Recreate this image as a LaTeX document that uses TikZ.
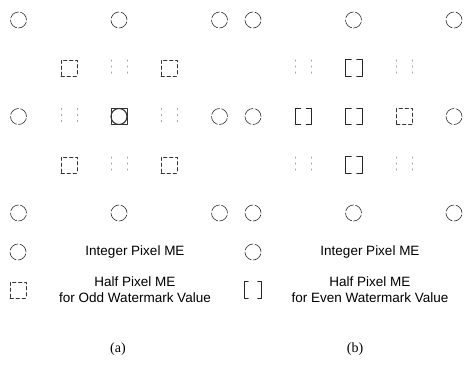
\documentclass[tikz,border=0pt]{standalone}
\usepackage{fontspec}
\setmainfont{Liberation Serif}
\setsansfont{Liberation Sans}

\tikzset{
  pelbox/.style={rectangle, minimum size=16pt, inner sep=0pt},
  intpel/.style={draw=black!80, circle, minimum size=16pt, inner sep=0pt, line width=0.6pt, dash pattern=on 10.5pt off 2pt},
  oddpel/.style={pelbox, draw=black!80, line width=0.6pt, dash pattern=on 3.5pt off 2.5pt},
  evenpel/.style={draw=black!85, line width=0.8pt},
  faintpel/.style={draw=black!35, line width=0.5pt, dash pattern=on 1.5pt off 4.5pt},
  keytext/.style={font=\sffamily\fontsize{13.5}{16.5}\selectfont, align=center, inner sep=0pt},
  caption/.style={font=\rmfamily\fontsize{14}{16}\selectfont, inner sep=0pt}
}

\begin{document}
\begin{tikzpicture}[x=1pt, y=-1pt, line cap=round, line join=round]
  \useasboundingbox (0,0) rectangle (464,367);

  % integer pel grids (no circle in the middle of panel (b))
  \foreach \p/\dx in {a/0,b/234.5}
    \foreach \i/\j in {0/0,1/0,2/0,0/1,2/1,0/2,1/2,2/2}
      \node[intpel] (\p int\i\j) at (18.5+\dx+100.5*\i, 20+96.5*\j) {};
  \node[intpel, solid, line width=1.1pt] (aint11) at (119,116.5) {};

  % half pel positions, panel (a)
  \foreach \i/\j in {0/0,2/0,0/2,2/2}
    \node[oddpel] (ahalf\i\j) at (69+50*\i, 68+48.5*\j) {};
  \foreach \i/\j in {1/0,0/1,2/1,1/2} {
    \node[pelbox] (ahalf\i\j) at (69+50*\i, 68+48.5*\j) {};
    \draw[faintpel] (ahalf\i\j.north west) -- (ahalf\i\j.south west)
                    (ahalf\i\j.north east) -- (ahalf\i\j.south east);
  }
  \node[oddpel, solid, line width=1pt] (ahalf11) at (119,116.5) {};

  % half pel positions, panel (b)
  \foreach \i/\j in {1/0,0/1,1/1,1/2} {
    \node[pelbox] (bhalf\i\j) at (303.5+50.5*\i, 68+48.5*\j) {};
    \draw[evenpel] (bhalf\i\j.north west) ++(5.5,0) -| (bhalf\i\j.south west) -- ++(5.5,0)
                   (bhalf\i\j.north east) ++(-5.5,0) -| (bhalf\i\j.south east) -- ++(-5.5,0);
  }
  \foreach \i/\j in {0/0,2/0,0/2,2/2} {
    \node[pelbox] (bhalf\i\j) at (303.5+50.5*\i, 68+48.5*\j) {};
    \draw[faintpel] (bhalf\i\j.north west) -- (bhalf\i\j.south west)
                    (bhalf\i\j.north east) -- (bhalf\i\j.south east);
  }
  \node[oddpel] (bhalf21) at (404.5,116.5) {};

  % legends
  \node[intpel] (akey1) at (18,252) {};
  \node[keytext] (atext1) at (135,252) {Integer Pixel ME};
  \node[oddpel] (akey2) at (18,290) {};
  \node[keytext] (atext2) at (135,289.5) {Half Pixel ME\\for Odd Watermark Value};

  \node[intpel] (bkey1) at (253,252) {};
  \node[keytext] (btext1) at (370,252) {Integer Pixel ME};
  \node[pelbox] (bkey2) at (253,290) {};
  \draw[evenpel] (bkey2.north west) ++(3.5,0) -| (bkey2.south west) -- ++(3.5,0)
                 (bkey2.north east) ++(-3.5,0) -| (bkey2.south east) -- ++(-3.5,0);
  \node[keytext] (btext2) at (370,289.5) {Half Pixel ME\\for Even Watermark Value};

  \node[caption] (acap) at (118,349) {(a)};
  \node[caption] (bcap) at (355,349) {(b)};
\end{tikzpicture}
\end{document}
